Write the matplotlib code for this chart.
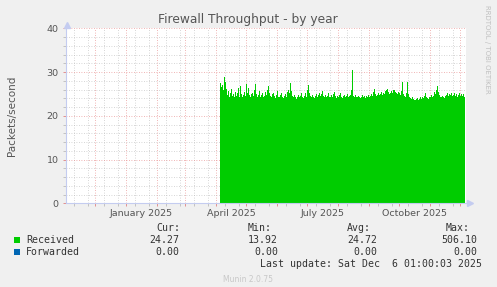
import datetime as dt
import matplotlib
matplotlib.use('Agg')
import matplotlib.pyplot as plt
import matplotlib.dates as mdates
from matplotlib.ticker import MultipleLocator

# janela do grafico (400 dias, termina na ultima atualizacao)
inicio = dt.datetime(2024, 11, 1, 1, 0)
fim = dt.datetime(2025, 12, 6, 1, 0)
primeiro_dia = dt.datetime(2025, 4, 5)

# pacotes/s recebidos, um valor por dia a partir de primeiro_dia
recebidos = [
    27.4, 26.6, 27.0, 25.8, 28.9, 27.8, 26.2, 24.8, 25.6, 24.3,
    25.2, 26.1, 24.6, 25.0, 24.2, 25.4, 24.5, 25.1, 26.3, 24.4,
    26.9, 25.0, 24.3, 24.8, 25.5, 24.6, 27.3, 25.2, 26.4, 24.7,
    24.2, 24.9, 25.3, 24.5, 25.8, 27.2, 25.0, 24.4, 24.8, 25.6,
    24.3, 24.7, 25.1, 24.2, 24.6, 25.4, 24.8, 26.0, 26.8, 25.2,
    24.6, 24.3, 24.9, 25.3, 24.5, 24.1, 24.7, 25.6, 24.4, 24.2,
    24.8, 25.2, 24.4, 24.0, 24.6, 25.0, 24.3, 25.5, 26.0, 25.1,
    27.4, 25.6, 24.5, 24.2, 24.8, 24.4, 23.9, 24.3, 24.7, 24.2,
    24.5, 25.1, 24.3, 24.0, 24.6, 25.2, 24.4, 25.8, 27.0, 25.3,
    24.6, 24.2, 24.8, 24.3, 24.0, 24.5, 25.0, 24.4, 24.7, 25.3,
    24.6, 25.0, 25.6, 24.5, 24.2, 24.8, 24.3, 24.6, 25.1, 24.4,
    24.2, 24.7, 24.3, 24.9, 25.4, 24.5, 24.1, 24.6, 24.3, 24.8,
    25.2, 24.4, 24.0, 24.5, 24.8, 24.3, 24.6, 25.0, 24.2, 24.5,
    24.8, 26.0, 30.4, 24.6, 24.3, 24.7, 24.4, 24.2, 24.5, 24.3,
    24.0, 24.4, 24.7, 24.2, 24.6, 24.1, 24.5, 24.3, 24.8, 24.4,
    24.6, 25.0, 24.5, 25.4, 26.1, 25.0, 24.6, 24.8, 25.2, 24.7,
    25.0, 25.5, 24.8, 25.3, 25.0, 25.6, 25.9, 26.2, 25.4, 25.0,
    25.3, 25.6, 25.2, 25.8, 26.0, 25.5, 25.3, 25.0, 25.4, 25.1,
    24.8, 25.6, 27.7, 24.9, 24.5, 24.2, 25.3, 27.7, 25.0, 24.3,
    24.0, 23.8, 24.2, 23.9, 23.6, 23.5, 23.8, 24.1, 23.7, 23.9,
    24.2, 23.8, 24.3, 24.0, 24.6, 25.2, 24.3, 24.0, 23.8, 24.2,
    24.4, 24.8, 24.2, 24.6, 25.5, 24.9, 26.0, 26.7, 25.4, 24.8,
    24.4, 24.2, 24.6, 24.3, 24.1, 24.5, 24.8, 25.2, 24.6, 25.0,
    24.7, 25.3, 24.5, 24.8, 25.1, 24.6, 25.0, 24.4, 24.8, 25.2,
    24.6, 25.0, 24.5, 24.9, 24.3, 24.3,
]
dias = [primeiro_dia + dt.timedelta(days=i) for i in range(len(recebidos))]

rotulos_meses = ['January 2025', 'April 2025', 'July 2025', 'October 2025']
datas_rotulos = [dt.datetime(2025, 1, 16), dt.datetime(2025, 4, 16),
                 dt.datetime(2025, 7, 16), dt.datetime(2025, 10, 16)]

series = ['Received', 'Forwarded']
cores = ['#00CC00', '#0066B3']
cur = ['24.27', '0.00']
minimo = ['13.92', '0.00']
media = ['24.72', '0.00']
maximo = ['506.10', '0.00']
ultima = 'Last update: Sat Dec  6 01:00:03 2025'

W, H = 497, 287
fundo = '#F0F0F0'
cinza = '#555555'
eixo = '#C4CCF0'

fig = plt.figure(figsize=(W / 100, H / 100), dpi=100, facecolor=fundo)
ax = fig.add_axes([65.5 / W, 1 - 203.3 / H, 400 / W, 175 / H])
ax.set_facecolor('white')

ax.fill_between(dias, recebidos, 0, color='#00CC00', linewidth=0, step='post', zorder=2)

ax.set_xlim(inicio, fim)
ax.set_ylim(0, 40)

# grade
ax.xaxis.set_major_locator(mdates.MonthLocator())
ax.xaxis.set_minor_locator(mdates.DayLocator(bymonthday=[10, 24]))
ax.xaxis.set_major_formatter(plt.NullFormatter())
ax.yaxis.set_major_locator(MultipleLocator(10))
ax.yaxis.set_minor_locator(MultipleLocator(2))
ax.set_axisbelow(True)
ax.grid(which='minor', color='#BBBBBB', linestyle=(0, (1, 2)), linewidth=0.6, alpha=0.8)
ax.grid(which='major', color='#E89090', linestyle=(0, (1, 2)), linewidth=0.6, alpha=0.9)

ax.tick_params(which='both', length=2, width=0.6, direction='out')
ax.tick_params(which='major', colors='#E08080', labelcolor=cinza, labelsize=6.8, pad=3)
ax.tick_params(which='minor', colors='#BBBBBB')

for lado in ['top', 'right']:
    ax.spines[lado].set_visible(False)
for lado in ['left', 'bottom']:
    ax.spines[lado].set_color(eixo)
    ax.spines[lado].set_linewidth(0.8)
    ax.spines[lado].set_zorder(3)

# setas dos eixos
ax.plot([0.003], [1.02], marker='^', markersize=4.5, color=eixo, transform=ax.transAxes, clip_on=False)
ax.plot([1.011], [0.0], marker='>', markersize=4.5, color=eixo, transform=ax.transAxes, clip_on=False)

for data, rot in zip(datas_rotulos, rotulos_meses):
    ax.text(data, -0.035, rot, transform=ax.get_xaxis_transform(), ha='center', va='top',
            fontsize=6.8, color=cinza)

ax.set_ylabel('Packets/second', fontsize=7.5, color=cinza, labelpad=21)

fig.text(248 / W, 1 - 19 / H, 'Firewall Throughput - by year', ha='center', va='center',
         fontsize=8.8, color=cinza)
fig.text(487 / W, 1 - 5 / H, 'RRDTOOL / TOBI OETIKER', rotation=270, ha='center', va='top',
         fontsize=5, color='#C0C0C0')

# legenda em fonte monoespacada
mono = dict(family='DejaVu Sans Mono', fontsize=7.1, color='#333333', va='center')


def px(x, y):
    return x / W, 1 - y / H


fig.text(*px(180, 228), 'Cur:', ha='right', **mono)
fig.text(*px(272, 228), 'Min:', ha='right', **mono)
fig.text(*px(371, 228), 'Avg:', ha='right', **mono)
fig.text(*px(470, 228), 'Max:', ha='right', **mono)
for i, nome in enumerate(series):
    y = 240 + 12 * i
    fig.patches.append(plt.Rectangle(px(14, y + 3), 6 / W, 6 / H, transform=fig.transFigure,
                                     facecolor=cores[i], edgecolor='none'))
    fig.text(*px(26, y), nome, ha='left', **mono)
    fig.text(*px(179, y), cur[i], ha='right', **mono)
    fig.text(*px(278, y), minimo[i], ha='right', **mono)
    fig.text(*px(377, y), media[i], ha='right', **mono)
    fig.text(*px(477, y), maximo[i], ha='right', **mono)
fig.text(*px(482, 264), ultima, ha='right', **mono)

fig.text(248 / W, 1 - 280 / H, 'Munin 2.0.75', ha='center', va='center', fontsize=5.5, color='#C8C8C8')

fig.savefig('out.png', dpi=100, facecolor=fundo)
